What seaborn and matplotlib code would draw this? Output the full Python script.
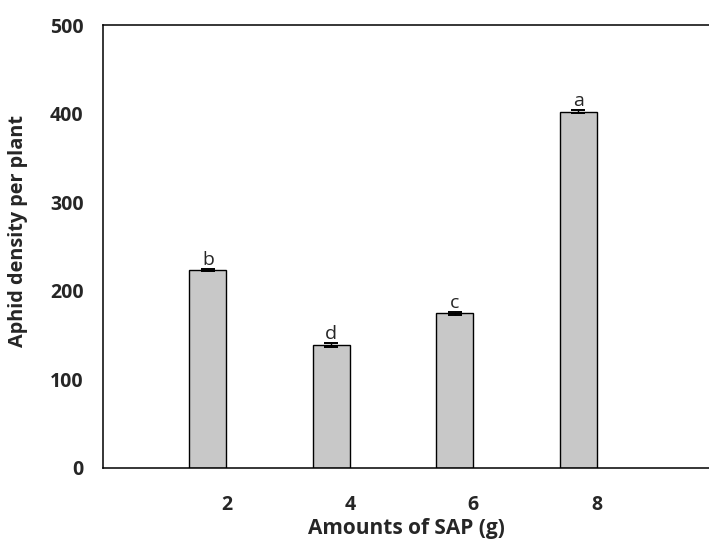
import numpy as np
import matplotlib
matplotlib.use('Agg')
import matplotlib.pyplot as plt
import seaborn as sns

# 数据
sap_amounts = [2, 4, 6, 8]
aphid_density = [223.4, 138.6, 174.5, 402.3]
aphid_se = [1.5, 2.0, 1.5, 2.0]
letters = ['b', 'd', 'c', 'a']

sns.set_style('white')
plt.rcParams['font.family'] = ['Open Sans', 'DejaVu Sans']

fig = plt.figure(figsize=(7.09, 5.45), dpi=100)
ax = fig.add_axes([0.1453, 0.1418, 0.8547, 0.8123])

# bars sit just left of each tick (SigmaPlot style)
bar_w = 0.6
centers = [a - bar_w / 2 for a in sap_amounts]
sns.barplot(x=centers, y=aphid_density, native_scale=True, width=bar_w / 2,
            color='#c8c8c8', saturation=1, edgecolor='black', linewidth=1,
            errorbar=None, ax=ax)
ax.errorbar(centers, aphid_density, yerr=aphid_se, fmt='none', ecolor='black',
            elinewidth=1, capsize=4.7, capthick=1.4)

for c, v, e, lab in zip(centers, aphid_density, aphid_se, letters):
    ax.annotate(lab, (c, v + e), xytext=(0, 0), textcoords='offset points',
                ha='center', va='bottom', fontsize=14)

ax.set_xlim(0, 9.82)
ax.set_ylim(0, 500)
ax.set_xticks(sap_amounts)
ax.set_xticklabels([str(a) for a in sap_amounts])
ax.set_yticks(range(0, 501, 100))

for s in ['left', 'bottom', 'top']:
    ax.spines[s].set_visible(True)
    ax.spines[s].set_color('black')
    ax.spines[s].set_linewidth(1.1)
ax.spines['right'].set_visible(False)

ax.tick_params(axis='both', direction='out', length=5, width=1, color='black',
               labelsize=14)
ax.tick_params(axis='x', pad=15)
ax.tick_params(axis='y', pad=9)
for t in ax.get_xticklabels() + ax.get_yticklabels():
    t.set_fontweight('bold')

ax.set_xlabel('Amounts of SAP (g)', fontsize=15, fontweight='bold', labelpad=2)
ax.set_ylabel('Aphid density per plant', fontsize=14.3, fontweight='bold')
ax.yaxis.set_label_coords(-0.124, 0.535)

fig.savefig('out.png', dpi=100)
